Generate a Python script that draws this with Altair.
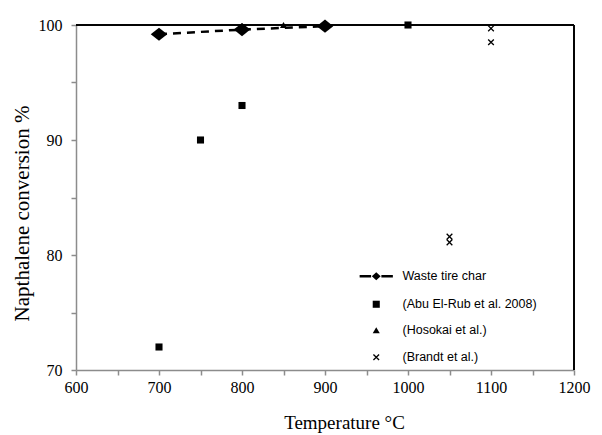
import altair as alt
import pandas as pd

# Waste tire char (this work)
wtc_temp = [700, 800, 900]
wtc_conv = [99.2, 99.6, 99.9]

# Literature data
abu_temp = [700, 750, 800, 1000]
abu_conv = [72.0, 90.0, 93.0, 100.0]

hos_temp = [800, 850, 900]
hos_conv = [99.9, 100.0, 100.0]

bra_temp = [1050, 1050, 1100, 1100]
bra_conv = [81.6, 81.1, 99.7, 98.5]

series_names = ["Waste tire char", "(Abu El-Rub et al. 2008)", "(Hosokai et al.)", "(Brandt et al.)"]

wtc = pd.DataFrame({"T": wtc_temp, "C": wtc_conv, "series": series_names[0]})
lit = pd.concat([
    pd.DataFrame({"T": abu_temp, "C": abu_conv, "series": series_names[1]}),
    pd.DataFrame({"T": hos_temp, "C": hos_conv, "series": series_names[2]}),
    pd.DataFrame({"T": bra_temp, "C": bra_conv, "series": series_names[3]}),
], ignore_index=True)

# marker shapes (filled paths)
diamond_path = "M-1.2,0L0,-0.95L1.2,0L0,0.95Z"
legend_line_path = ("M-4.7,-0.38L-1.45,-0.38L-1.45,0.38L-4.7,0.38Z"
                    "M-1.25,0L0,-1.15L1.25,0L0,1.15Z"
                    "M1.45,-0.38L4.7,-0.38L4.7,0.38L1.45,0.38Z")
x_path = ("M-0.67,-0.93L0.93,0.67L0.67,0.93L-0.93,-0.67Z"
          "M-0.67,0.93L-0.93,0.67L0.67,-0.93L0.93,-0.67Z")

serif = "Liberation Serif"
xsc = alt.Scale(domain=[600, 1200], nice=False, zero=False)
ysc = alt.Scale(domain=[70, 100], nice=False, zero=False)

x_enc = alt.X("T:Q", scale=xsc,
              axis=alt.Axis(values=list(range(600, 1201, 50)),
                            labelExpr="datum.value % 100 == 0 ? datum.label : ''",
                            title="Temperature  °C",
                            titleFont=serif, titleFontSize=19, titleFontWeight="normal",
                            titlePadding=18, titleX=268, titleAlign="center",
                            labelFont=serif, labelFontSize=16, labelPadding=4,
                            labelFlush=False, format="d"))
y_enc = alt.Y("C:Q", scale=ysc,
              axis=alt.Axis(values=list(range(70, 101, 5)),
                            labelExpr="datum.value % 10 == 0 ? datum.label : ''",
                            title="Napthalene conversion %",
                            titleFont=serif, titleFontSize=21, titleFontWeight="normal",
                            titlePadding=6, titleY=188,
                            labelFont=serif, labelFontSize=16, labelPadding=9,
                            labelFlush=False))

line = alt.Chart(wtc).mark_line(color="black", strokeWidth=2.5, strokeDash=[8, 6]).encode(
    x=x_enc, y=y_enc)

diamonds = alt.Chart(wtc).mark_point(shape=diamond_path, size=190, filled=True,
                                     fill="black", opacity=1).encode(
    x=alt.X("T:Q", scale=xsc), y=alt.Y("C:Q", scale=ysc))

pts = alt.Chart(lit).mark_point(filled=True, fill="black", opacity=1, size=50).encode(
    x=alt.X("T:Q", scale=xsc), y=alt.Y("C:Q", scale=ysc),
    shape=alt.Shape("series:N",
                    scale=alt.Scale(domain=series_names,
                                    range=[legend_line_path, "square", "triangle-up", x_path]),
                    legend=alt.Legend(title=None, orient="none", legendX=294, legendY=245,
                                      symbolSize=50, symbolFillColor="black",
                                      symbolOpacity=1, labelOffset=20,
                                      labelFont="Liberation Sans", labelFontSize=12.5,
                                      labelColor="black", rowPadding=13)))

top = alt.Chart(wtc).mark_rule(color="black", strokeWidth=1.5).encode(
    y=alt.YDatum(100, type="quantitative", scale=ysc))
right = alt.Chart(wtc).mark_rule(color="black", strokeWidth=1.5).encode(
    x=alt.XDatum(1200, type="quantitative", scale=xsc))

chart = alt.layer(top, right, line, diamonds, pts).properties(
    width=498, height=345,
    autosize=alt.AutoSizeParams(type="none"),
    padding={"left": 76, "top": 25, "right": 28, "bottom": 65},
    background="white",
).configure_view(stroke=None).configure_axis(
    grid=False, domainColor="#8c8c8c", tickColor="#8c8c8c", domainWidth=1.5,
    tickWidth=1.5, tickSize=5, labelColor="black", titleColor="black")

chart.save("out.html", embed_options={"renderer": "svg", "actions": False})
